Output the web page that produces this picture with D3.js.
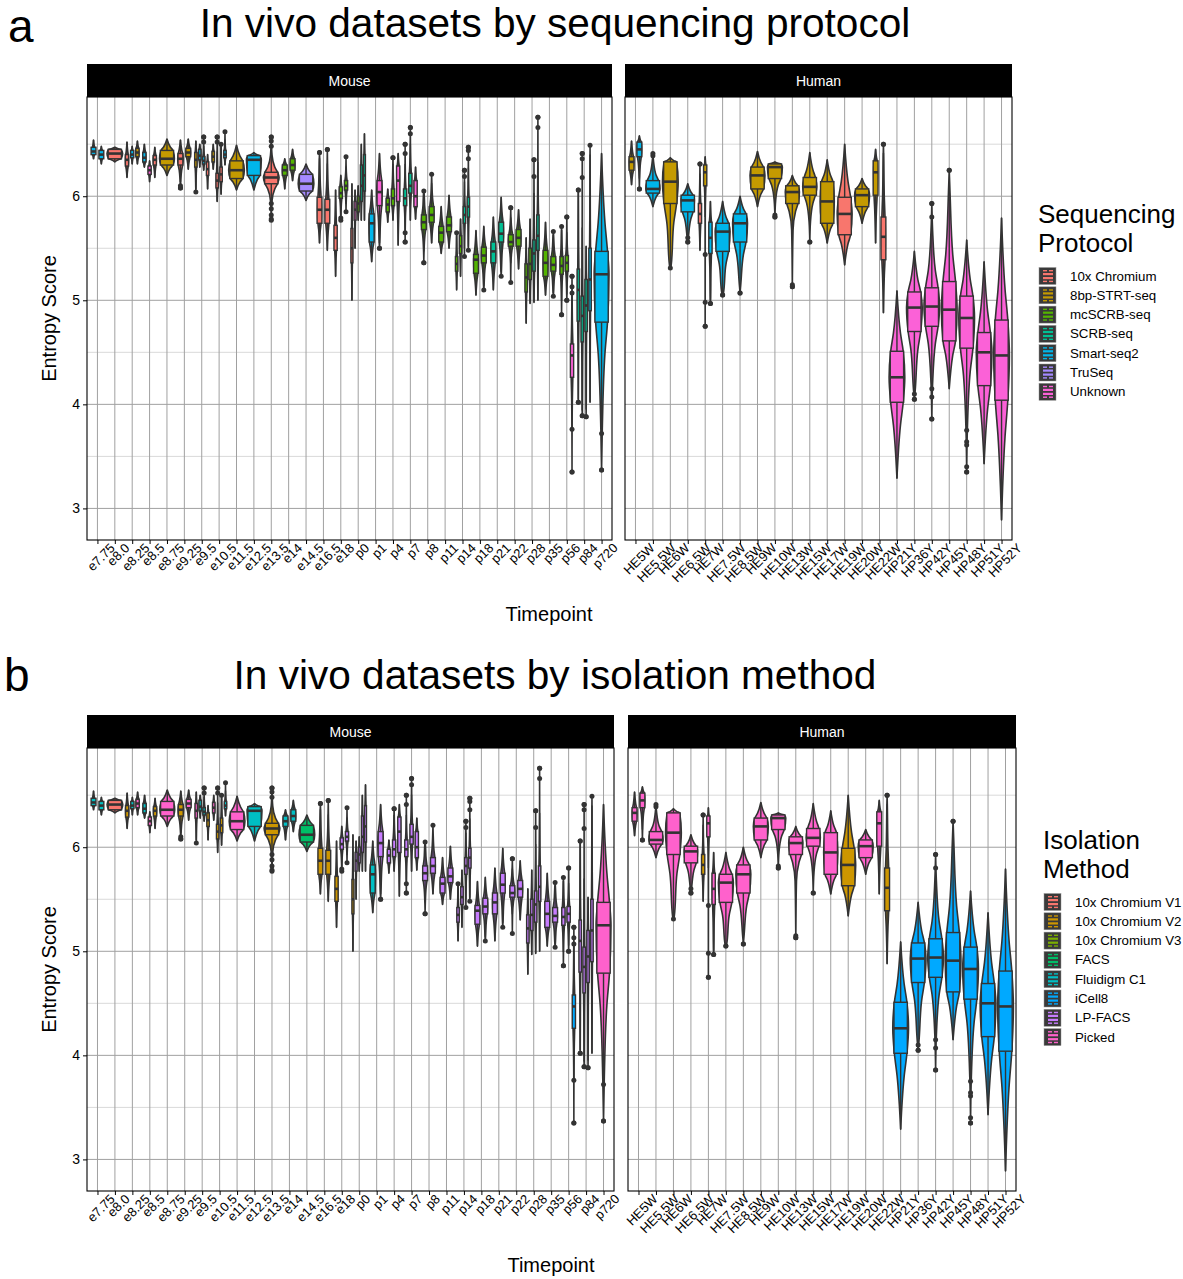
<!DOCTYPE html>
<html><head><meta charset="utf-8">
<script src="https://cdn.jsdelivr.net/npm/d3@7"></script>
<style>body{margin:0;background:#fff} text{font-family:"Liberation Sans",Arial,sans-serif}</style>
</head><body><svg id="c" width="1183" height="1279"></svg>
<script>
// ---------- data ----------
const protocols = ["10x Chromium","8bp-STRT-seq","mcSCRB-seq","SCRB-seq","Smart-seq2","TruSeq","Unknown"];
const protocolColors = ["#F8766D","#C49A00","#53B400","#00C094","#00B6EB","#A58AFF","#FB61D7"];
const isolations = ["10x Chromium V1","10x Chromium V2","10x Chromium V3","FACS","Fluidigm C1","iCell8","LP-FACS","Picked"];
const isolationColors = ["#F8766D","#CD9600","#7CAE00","#00BE67","#00BFC4","#00A9FF","#C77CFF","#FF61CC"];
const mouseTimepoints = ["e7.75","e8.0","e8.25","e8.5","e8.75","e9.25","e9.5","e10.5","e11.5","e12.5","e13.5","e14","e14.5","e16.5","e18","p0","p1","p4","p7","p8","p11","p14","p18","p21","p22","p28","p35","p56","p84","p720"];
const humanTimepoints = ["HE5W","HE5.5W","HE6W","HE6.5W","HE7W","HE7.5W","HE8.5W","HE9W","HE10W","HE13W","HE15W","HE17W","HE19W","HE20W","HE22W","HP21Y","HP36Y","HP42Y","HP45Y","HP48Y","HP51Y","HP52Y"];
const yTicks = [3,4,5,6];
// [timepoint, slot, slots, protocol#, isolation#, relWidth, min, q1, median, q3, max, outliers]
const mouseViolins = [
["e7.75",0,2,4,4,0.35,6.36,6.40,6.43,6.47,6.54,[6.54]],
["e7.75",1,2,4,4,0.35,6.31,6.36,6.40,6.44,6.48,[6.48,6.31]],
["e8.0",0,1,0,0,1.0,6.33,6.36,6.41,6.45,6.47,[]],
["e8.25",0,3,0,1,0.6,6.18,6.29,6.35,6.40,6.52,[]],
["e8.25",1,3,4,4,0.4,6.31,6.37,6.40,6.44,6.48,[]],
["e8.25",2,3,1,7,0.6,6.31,6.38,6.42,6.46,6.53,[]],
["e8.5",0,3,4,4,0.6,6.28,6.33,6.37,6.42,6.50,[]],
["e8.5",1,3,6,7,0.4,6.14,6.21,6.25,6.29,6.34,[]],
["e8.5",2,3,0,1,0.6,6.18,6.30,6.35,6.39,6.47,[]],
["e8.75",0,1,1,7,0.95,6.20,6.30,6.36,6.44,6.55,[]],
["e9.25",0,2,0,1,0.7,6.08,6.30,6.36,6.41,6.54,[6.54,6.50,6.10,6.08]],
["e9.25",1,2,1,7,0.6,6.26,6.38,6.42,6.46,6.55,[6.55]],
["e9.5",0,4,1,7,0.45,6.04,6.28,6.35,6.42,6.53,[]],
["e9.5",1,4,4,4,0.5,6.28,6.35,6.39,6.45,6.50,[]],
["e9.5",2,4,4,4,0.5,6.25,6.31,6.34,6.38,6.57,[6.57,6.52]],
["e9.5",3,4,0,1,0.4,6.07,6.20,6.26,6.33,6.40,[6.07]],
["e10.5",0,4,1,7,0.5,6.26,6.33,6.38,6.43,6.50,[]],
["e10.5",1,4,0,1,0.4,5.95,6.08,6.15,6.22,6.57,[6.57,6.52,5.98,5.95]],
["e10.5",2,4,0,1,0.4,6.02,6.14,6.21,6.28,6.50,[6.03]],
["e10.5",3,4,4,4,0.45,6.30,6.37,6.40,6.44,6.62,[]],
["e11.5",0,1,1,7,1.0,6.06,6.17,6.25,6.34,6.49,[]],
["e12.5",0,1,4,4,0.95,6.06,6.20,6.35,6.39,6.42,[]],
["e13.5",0,1,0,1,1.0,5.77,6.12,6.18,6.23,6.57,[6.57,6.53,6.48,5.93,5.88,5.82,5.78]],
["e14",0,2,2,4,0.6,6.07,6.20,6.25,6.30,6.36,[6.07]],
["e14",1,2,2,4,0.6,6.15,6.25,6.30,6.36,6.45,[]],
["e14.5",0,1,5,3,1.0,5.96,6.05,6.12,6.21,6.31,[]],
["e16.5",0,2,0,1,0.5,5.55,5.74,5.87,5.99,6.42,[6.42]],
["e16.5",1,2,0,1,0.5,5.48,5.74,5.87,5.97,6.45,[6.45,6.31]],
["e18",0,3,0,1,0.4,5.23,5.48,5.60,5.72,6.06,[]],
["e18",1,3,2,6,0.5,5.77,5.98,6.03,6.09,6.20,[5.79]],
["e18",2,3,2,6,0.5,5.85,6.06,6.10,6.15,6.38,[]],
["p0",0,5,0,1,0.35,5.00,5.36,5.50,5.69,6.12,[]],
["p0",1,5,6,6,0.3,5.50,5.77,5.87,5.95,6.06,[5.50]],
["p0",2,5,2,6,0.4,5.77,5.85,5.93,6.00,6.10,[]],
["p0",3,5,3,6,0.35,5.77,5.95,6.10,6.30,6.50,[]],
["p0",4,5,3,6,0.35,5.77,6.05,6.20,6.40,6.60,[]],
["p1",0,2,4,4,0.7,5.37,5.56,5.74,5.83,6.06,[]],
["p1",1,2,6,6,0.7,5.50,5.91,6.04,6.15,6.41,[5.50]],
["p4",0,3,2,6,0.5,5.75,5.85,5.92,5.98,6.07,[]],
["p4",1,3,2,6,0.5,5.77,5.91,5.98,6.07,6.37,[6.37]],
["p4",2,3,6,6,0.5,5.53,5.95,6.15,6.29,6.41,[6.41,5.70,5.60,5.53]],
["p7",0,3,3,6,0.4,5.56,5.91,5.98,6.07,6.50,[6.50,6.41,6.31,5.75,5.65,5.56]],
["p7",1,3,3,6,0.45,5.77,6.03,6.10,6.22,6.66,[6.66,6.60]],
["p7",2,3,6,6,0.5,5.78,5.90,6.00,6.15,6.28,[]],
["p8",0,2,2,6,0.6,5.36,5.68,5.75,5.82,6.05,[5.36]],
["p8",1,2,2,6,0.6,5.55,5.75,5.82,5.90,6.21,[]],
["p11",0,2,2,6,0.6,5.45,5.56,5.65,5.71,5.90,[]],
["p11",1,2,2,6,0.6,5.50,5.66,5.72,5.80,6.01,[]],
["p14",0,4,2,6,0.4,5.10,5.28,5.35,5.42,5.65,[]],
["p14",1,4,2,6,0.4,5.23,5.45,5.52,5.62,5.78,[5.70]],
["p14",2,4,3,6,0.4,5.42,5.74,5.82,5.90,6.25,[6.25,6.19]],
["p14",3,4,3,6,0.4,5.48,5.80,5.90,5.99,6.47,[6.47,6.44,6.36]],
["p18",0,2,2,6,0.6,5.05,5.26,5.39,5.44,5.67,[]],
["p18",1,2,2,6,0.6,5.10,5.36,5.43,5.51,5.71,[]],
["p21",0,2,3,6,0.6,5.10,5.36,5.47,5.56,5.80,[]],
["p21",1,2,3,6,0.6,5.23,5.56,5.64,5.75,5.99,[]],
["p22",0,2,2,6,0.6,5.17,5.52,5.56,5.63,5.89,[5.89]],
["p22",1,2,2,6,0.6,5.30,5.52,5.60,5.68,5.87,[]],
["p28",0,4,2,6,0.4,4.78,5.08,5.22,5.35,5.60,[]],
["p28",1,4,2,6,0.4,4.97,5.20,5.35,5.50,5.78,[5.78]],
["p28",2,4,3,6,0.4,4.98,5.28,5.45,5.58,6.35,[6.35,6.19]],
["p28",3,4,3,6,0.4,5.00,5.48,5.62,5.82,6.76,[6.76,6.66]],
["p35",0,2,2,6,0.6,5.05,5.23,5.36,5.48,5.75,[5.75]],
["p35",1,2,2,6,0.6,5.04,5.28,5.34,5.42,5.66,[]],
["p56",0,3,2,6,0.5,4.86,5.25,5.33,5.42,5.71,[4.86]],
["p56",1,3,2,6,0.5,5.00,5.28,5.36,5.43,5.80,[5.80,5.00]],
["p56",2,3,6,5,0.4,3.35,4.26,4.47,4.58,5.23,[5.23,5.13,5.07,3.76,3.35]],
["p84",0,4,3,6,0.35,4.02,4.80,5.10,5.30,6.06,[6.06,5.93,5.77,4.05,4.02]],
["p84",1,4,3,6,0.35,3.89,4.60,4.85,5.04,6.41,[6.41,6.36,6.18,3.89]],
["p84",2,4,3,6,0.3,3.88,4.70,4.95,5.20,5.52,[3.88]],
["p84",3,4,4,6,0.3,4.02,4.90,5.20,5.50,6.49,[]],
["p720",0,1,4,7,0.95,3.37,4.79,5.25,5.47,6.41,[3.72,3.37]]
];
const humanViolins = [
["HE5W",0,2,1,7,0.6,6.11,6.25,6.33,6.38,6.53,[]],
["HE5W",1,2,4,7,0.6,6.07,6.38,6.45,6.52,6.58,[6.07]],
["HE5.5W",0,1,4,7,0.9,5.90,6.03,6.07,6.15,6.41,[6.39]],
["HE6W",0,1,1,7,1.0,5.31,5.93,6.14,6.33,6.37,[]],
["HE6.5W",0,1,4,7,0.85,5.56,5.85,5.96,6.01,6.12,[5.62,5.60,5.56]],
["HE7W",0,3,0,1,0.4,5.48,5.74,5.83,5.93,6.31,[6.31]],
["HE7W",1,3,1,7,0.35,4.75,6.10,6.23,6.30,6.38,[5.44,4.98,4.75]],
["HE7W",2,3,4,7,0.5,4.97,5.45,5.60,5.75,5.95,[5.00,4.97]],
["HE7.5W",0,1,4,7,0.95,5.05,5.47,5.66,5.74,5.95,[5.10,5.05]],
["HE8.5W",0,1,4,7,0.95,5.07,5.56,5.74,5.83,6.00,[5.07]],
["HE9W",0,1,1,7,0.95,5.90,6.07,6.20,6.28,6.43,[]],
["HE10W",0,1,1,7,0.95,5.80,6.17,6.28,6.31,6.33,[5.82,5.80]],
["HE13W",0,1,1,7,0.9,5.13,5.93,6.04,6.10,6.20,[5.15,5.13]],
["HE15W",0,1,1,7,0.9,5.56,6.01,6.09,6.18,6.42,[5.56]],
["HE17W",0,1,1,7,0.9,5.55,5.74,5.95,6.14,6.35,[]],
["HE19W",0,1,0,1,0.95,5.34,5.63,5.83,5.99,6.50,[6.50]],
["HE20W",0,1,1,7,0.95,5.74,5.90,6.01,6.07,6.17,[]],
["HE22W",0,2,1,7,0.5,5.55,6.01,6.23,6.34,6.45,[5.55]],
["HE22W",1,2,0,1,0.5,4.88,5.39,5.61,5.80,6.50,[6.50,6.39]],
["HP21Y",0,1,6,5,1.0,3.29,4.02,4.26,4.51,5.09,[]],
["HP36Y",0,1,6,5,1.0,4.05,4.70,4.93,5.08,5.47,[4.10,4.05]],
["HP42Y",0,1,6,5,1.0,3.86,4.75,4.94,5.12,5.93,[5.93,5.80,4.15,4.07,3.86]],
["HP45Y",0,1,6,5,1.0,4.15,4.61,4.91,5.18,6.25,[6.25]],
["HP48Y",0,1,6,5,1.0,3.35,4.54,4.83,5.04,5.58,[3.75,3.64,3.61,3.40,3.35]],
["HP51Y",0,1,6,5,1.0,3.43,4.18,4.50,4.69,5.37,[]],
["HP52Y",0,1,6,5,1.0,2.89,4.04,4.47,4.81,5.79,[]]
];

// ---------- drawing ----------
const svg = d3.select("#c");
const FONT = "'Liberation Sans', Arial, sans-serif";
const allV = mouseViolins.concat(humanViolins);
const lo = d3.min(allV, d => d[6]), hi = d3.max(allV, d => d[10]);
const pad = (hi - lo) * 0.05;
const yDomain = [lo - pad, hi + pad];
const STROKE = "#333333";

function violinPoints(v) {
  const [mn, q1, md, q3, mx] = v.slice(6, 11);
  const iqr = q3 - q1;
  const lw = Math.max(mn, q1 - 1.5 * iqr), uw = Math.min(mx, q3 + 1.5 * iqr);
  const p = [[mn, 0]];
  if (lw > mn + 1e-6) p.push([lw, 0.1]);
  p.push([q1 - (q1 - lw) * 0.3, 0.45], [q1, 0.8], [md, 1], [q3, 0.8], [q3 + (uw - q3) * 0.3, 0.45]);
  if (uw < mx - 1e-6) p.push([uw, 0.1]);
  p.push([mx, 0]);
  return {pts: p.filter((d, i, a) => i === 0 || d[0] > a[i - 1][0] + 1e-6), lw, uw};
}

function drawFacet(g, cats, violins, x0, x1, y, colIdx, colors, plotTop, plotBottom) {
  const xs = d3.scalePoint().domain(cats).range([x0, x1]).padding(0.6);
  const step = xs.step();
  const minor = [2.5, 3.5, 4.5, 5.5, 6.5].filter(t => t > yDomain[0] && t < yDomain[1]);
  g.append("g").selectAll("line").data(minor).join("line")
    .attr("x1", x0).attr("x2", x1).attr("y1", d => y(d)).attr("y2", d => y(d))
    .attr("stroke", "#d9d9d9").attr("stroke-width", 1);
  g.append("g").selectAll("line").data(yTicks).join("line")
    .attr("x1", x0).attr("x2", x1).attr("y1", d => y(d)).attr("y2", d => y(d))
    .attr("stroke", "#a0a0a0").attr("stroke-width", 1);
  g.append("g").selectAll("line").data(cats).join("line")
    .attr("x1", d => xs(d)).attr("x2", d => xs(d)).attr("y1", plotTop).attr("y2", plotBottom)
    .attr("stroke", "#a0a0a0").attr("stroke-width", 1);

  const geo = violins.map(v => {
    const slotW = 0.9 * step / v[2];
    const cx = xs(v[0]) + (v[1] - (v[2] - 1) / 2) * slotW;
    return {v, cx, slotW, ...violinPoints(v)};
  });
  g.append("g").selectAll("path").data(geo).join("path")
    .attr("d", d => d3.area()
      .y(p => y(p[0]))
      .x0(p => d.cx - p[1] * d.v[5] * d.slotW / 2)
      .x1(p => d.cx + p[1] * d.v[5] * d.slotW / 2)
      .curve(d3.curveMonotoneY)(d.pts))
    .attr("fill", d => colors[d.v[colIdx]])
    .attr("stroke", STROKE).attr("stroke-width", 1.6).attr("stroke-linejoin", "round");
  const bp = g.append("g");
  geo.forEach(d => {
    const [mn, q1, md, q3, mx] = d.v.slice(6, 11);
    const bw = d.slotW * (d.v[2] === 1 ? 0.85 : 0.62);
    bp.append("line").attr("x1", d.cx).attr("x2", d.cx).attr("y1", y(d.uw)).attr("y2", y(q3))
      .attr("stroke", STROKE).attr("stroke-width", 1.4);
    bp.append("line").attr("x1", d.cx).attr("x2", d.cx).attr("y1", y(q1)).attr("y2", y(d.lw))
      .attr("stroke", STROKE).attr("stroke-width", 1.4);
    bp.append("rect").attr("x", d.cx - bw / 2).attr("width", bw)
      .attr("y", y(q3)).attr("height", y(q1) - y(q3))
      .attr("fill", colors[d.v[colIdx]]).attr("stroke", STROKE).attr("stroke-width", 1.4);
    bp.append("line").attr("x1", d.cx - bw / 2).attr("x2", d.cx + bw / 2).attr("y1", y(md)).attr("y2", y(md))
      .attr("stroke", STROKE).attr("stroke-width", 2.6);
    const outs = d.v[11].concat([mn, mx]).filter(o => o < d.lw - 1e-6 || o > d.uw + 1e-6);
    bp.selectAll(null).data(outs).join("circle")
      .attr("cx", d.cx).attr("cy", o => y(o)).attr("r", 2.5).attr("fill", STROKE);
  });
  g.append("rect").attr("x", x0).attr("y", plotTop).attr("width", x1 - x0).attr("height", plotBottom - plotTop)
    .attr("fill", "none").attr("stroke", "#000").attr("stroke-width", 1.1);
  const ax = g.append("g").attr("transform", `translate(0,${plotBottom})`)
    .call(d3.axisBottom(xs).tickSize(4).tickSizeOuter(0));
  ax.select(".domain").remove();
  ax.selectAll(".tick line").attr("stroke", "#000").attr("stroke-width", 1);
  ax.selectAll(".tick text").attr("font-size", 13).attr("fill", "#000").attr("font-family", FONT)
    .attr("text-anchor", "middle").attr("y", 0).attr("dy", "0.35em")
    .each(function () {
      const L = this.getComputedTextLength();
      const ext = (L + 10) * 0.7071;
      d3.select(this).attr("transform", `translate(3,${2 + ext / 2}) rotate(-45)`);
    });
  return xs;
}

function drawLegend(x, yTop, titleLines, names, colors, labelX) {
  const g = svg.append("g");
  titleLines.forEach((t, i) => g.append("text").attr("x", x).attr("y", yTop + i * 28.5)
    .attr("font-size", 26).text(t));
  const y0 = yTop + 53, dy = 19.3;
  names.forEach((n, i) => {
    const cy = y0 + i * dy;
    const k = g.append("g").attr("transform", `translate(${x + 1},${cy - 8.5})`);
    k.append("rect").attr("width", 17).attr("height", 17).attr("fill", "#3a3a3a").attr("stroke", "#999").attr("stroke-width", 0.5);
    [[4,2.5,4,1.4],[10,2.5,4,1.4],[4,5.5,10,2.2],[4,9.5,10,2.2],[4,13.2,4,1.4],[10,13.2,4,1.4]].forEach(r =>
      k.append("rect").attr("x", r[0]).attr("y", r[1]).attr("width", r[2]).attr("height", r[3]).attr("fill", colors[i]));
    g.append("text").attr("x", labelX).attr("y", cy + 4.5).attr("font-size", 13.3).text(n);
  });
}

function drawPanel(o) {
  const g = svg.append("g");
  const y = d3.scaleLinear().domain(yDomain).range([o.plotBottom, o.plotTop]);
  g.append("text").attr("x", o.letterX).attr("y", o.letterY).attr("font-size", 46).text(o.letter);
  g.append("text").attr("x", 555).attr("y", o.titleY).attr("font-size", 40.6).attr("text-anchor", "middle").text(o.title);
  [["Mouse", o.mx], ["Human", o.hx]].forEach(([lab, xr]) => {
    g.append("rect").attr("x", xr[0]).attr("y", o.plotTop - 33).attr("width", xr[1] - xr[0]).attr("height", 33).attr("fill", "#000");
    g.append("text").attr("x", (xr[0] + xr[1]) / 2).attr("y", o.plotTop - 11.5).attr("text-anchor", "middle")
      .attr("font-size", 14).attr("fill", "#fff").text(lab);
  });
  drawFacet(g.append("g"), mouseTimepoints, mouseViolins, o.mx[0], o.mx[1], y, o.colIdx, o.colors, o.plotTop, o.plotBottom);
  drawFacet(g.append("g"), humanTimepoints, humanViolins, o.hx[0], o.hx[1], y, o.colIdx, o.colors, o.plotTop, o.plotBottom);
  const ay = g.append("g").attr("transform", `translate(${o.mx[0]},0)`)
    .call(d3.axisLeft(y).tickValues(yTicks).tickSize(4).tickFormat(d3.format("d")));
  ay.select(".domain").remove();
  ay.selectAll(".tick line").attr("stroke", "#000");
  ay.selectAll(".tick text").attr("font-size", 14).attr("fill", "#000").attr("font-family", FONT);
  g.append("text").attr("transform", `translate(56,${(o.plotTop + o.plotBottom) / 2}) rotate(-90)`)
    .attr("text-anchor", "middle").attr("font-size", 20).text("Entropy Score");
  g.append("text").attr("x", o.xTitleX).attr("y", o.xTitleY).attr("text-anchor", "middle").attr("font-size", 20).text("Timepoint");
}

drawPanel({letter: "a", letterX: 8, letterY: 42, title: "In vivo datasets by sequencing protocol", titleY: 37,
  plotTop: 97, plotBottom: 540, mx: [87, 612], hx: [625, 1012], colIdx: 3, colors: protocolColors,
  xTitleX: 549, xTitleY: 621});
drawPanel({letter: "b", letterX: 4, letterY: 691, title: "In vivo datasets by isolation method", titleY: 689,
  plotTop: 748, plotBottom: 1191, mx: [87, 614], hx: [628, 1016], colIdx: 4, colors: isolationColors,
  xTitleX: 551, xTitleY: 1272});
drawLegend(1038, 223, ["Sequencing", "Protocol"], protocols, protocolColors, 1070);
drawLegend(1043, 849, ["Isolation", "Method"], isolations, isolationColors, 1075);
</script></body></html>
